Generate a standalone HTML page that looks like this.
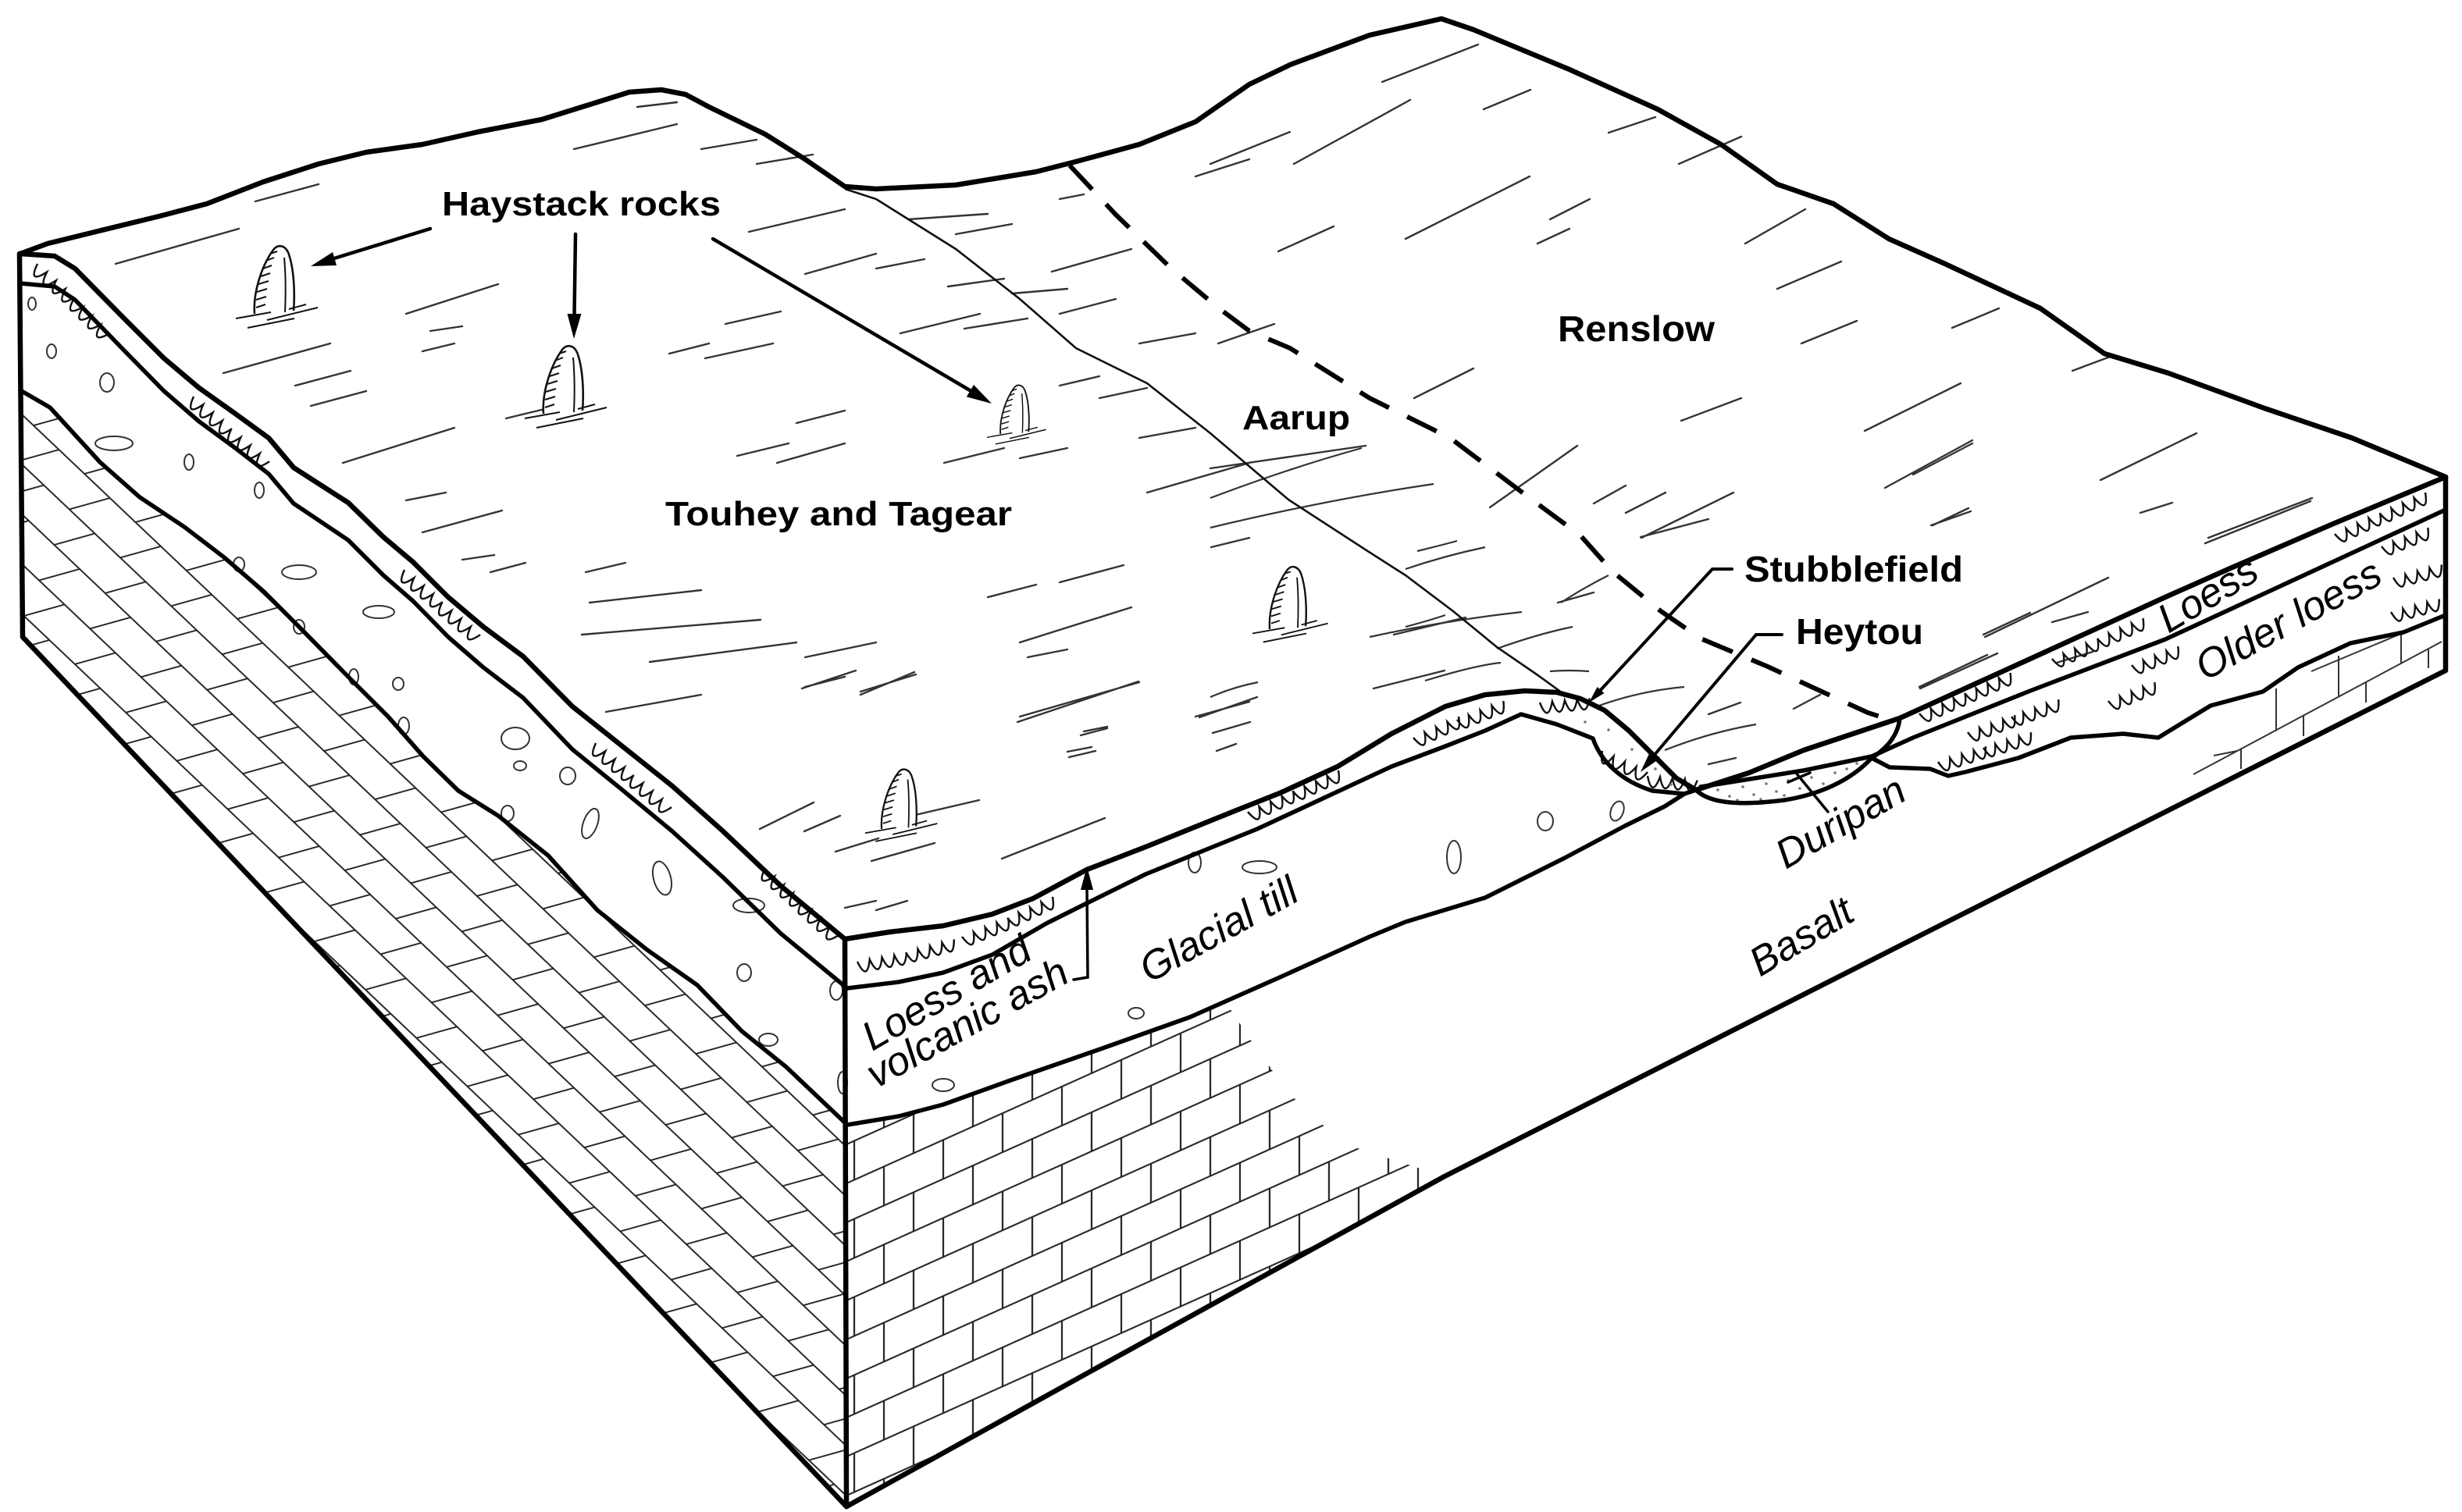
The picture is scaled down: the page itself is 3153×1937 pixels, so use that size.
<!DOCTYPE html>
<html><head><meta charset="utf-8"><style>
html,body{margin:0;padding:0;background:#fff;}
svg{display:block;}
.b{font-family:"Liberation Sans",Arial,sans-serif;font-weight:bold;fill:#000;}
.i{font-family:"Liberation Sans",Arial,sans-serif;font-style:italic;fill:#000;font-size:52px;}
</style></head><body>
<svg xmlns="http://www.w3.org/2000/svg" xmlns:xlink="http://www.w3.org/1999/xlink" width="3153" height="1937" viewBox="0 0 3153 1937">
<defs>
<pattern id="bf" patternUnits="userSpaceOnUse" width="76" height="100" patternTransform="translate(1084,1441) skewY(-24.2)">
<path d="M0,25H76M0,75H76M10,25V75M48,75V100M48,0V25" stroke="#222" stroke-width="2.2" fill="none"/>
</pattern>
<pattern id="bl" patternUnits="userSpaceOnUse" width="90" height="108" patternTransform="matrix(0.725 0.688 -0.963 0.269 29 500)">
<path d="M0,27H90M0,81H90M10,27V81M55,81V108M55,0V27" stroke="#222" stroke-width="2.2" fill="none"/>
</pattern>
<clipPath id="cl"><path d="M26,500 L64,522 L128,592 L179,637 L236,675 L287,714 L338,758 L383,803 L446,867 L497,918 L542,969 L587,1013 L638,1045 L702,1096 L765,1166 L829,1217 L893,1262 L950,1321 L1007,1367 L1084,1441 L1084,1930 L29,816 Z"/></clipPath>
<clipPath id="cf"><path d="M1084,1441 L1151,1430 L1208,1415 L1294,1384 L1409,1344 L1524,1303 L1570,1284 L1600,1330 L1650,1400 L1720,1465 L1850,1507 L1409,1750 L1084,1930 Z"/></clipPath>
<symbol id="w" overflow="visible"><path d="M0,0 q8,28 16,0 q8,28 16,0 q8,28 16,0 q8,28 16,0" fill="none" stroke="#111" stroke-width="2.5"/></symbol>
<symbol id="rk" overflow="visible">
<path d="M-26,0 C-28,-25 -18,-60 -2,-82 C4,-90 14,-88 18,-76 C24,-58 26,-30 24,-4" fill="#fff" stroke="#111" stroke-width="2.6"/>
<path d="M12,-72 C14,-50 14,-25 13,-2 M-24,-8 L-12,-12 M-24,-18 L-11,-22 M-23,-28 L-10,-32 M-21,-38 L-8,-42 M-18,-48 L-6,-52 M-15,-58 L-4,-62 M-11,-68 L-1,-72 M-6,-77 L3,-80 M-50,6 L-5,-2 M-10,8 L55,-8 M-35,18 L25,6 M18,-6 L40,-12" fill="none" stroke="#111" stroke-width="2"/>
</symbol>
</defs>
<rect width="3153" height="1937" fill="#fff"/>

<!-- brick fills -->
<rect x="0" y="400" width="1100" height="1540" fill="url(#bl)" clip-path="url(#cl)"/>
<rect x="1080" y="1200" width="800" height="740" fill="url(#bf)" clip-path="url(#cf)"/>
<path d="M2809,992 L3127,822 M2915,935 V882 M2995,893 V840 M3075,850 V812 M2870,960 V985 M2950,917 V943 M3030,874 V900 M3110,832 V856 M2835,968 L2865,962 M2960,860 L3127,790" stroke="#333" stroke-width="2" fill="none"/>

<!-- hatch lines -->
<path fill="none" stroke="#333" stroke-width="2.4" stroke-linecap="round" d="
M816,137L867,131 M735,191L867,159 M898,191L969,179 M327,258L408,236 M969,210L1041,198 M959,297L1082,268 M1163,281L1265,274 M1224,300L1296,287 M1357,255L1388,249 M1531,226L1600,204 M148,338L306,293 M1031,351L1122,325 M1122,344L1184,332 M1347,348L1449,319 M520,402L638,364 M551,424L592,418 M541,450L582,440 M1214,367L1286,357 M1296,376L1367,370 M929,415L1000,399 M1153,427L1255,402 M1235,421L1316,408 M1357,402L1429,383 M1459,440L1531,427 M286,478L423,440 M378,494L449,475 M398,520L469,501 M857,453L908,440 M903,459L990,440 M1357,494L1408,482 M1408,510L1469,497 M648,536L714,520 M439,593L582,548 M1020,542L1082,526 M944,584L1010,568 M995,593L1082,568 M1209,593L1286,574 M1306,587L1367,574 M1469,631L1600,593 M1459,561L1531,548 M520,641L571,631 M541,682L643,654 M592,717L633,711 M628,733L673,721 M750,733L801,721 M755,772L898,756 M745,813L974,794 M1265,765L1327,749 M1357,746L1439,724 M1551,701L1600,689 M832,848L1020,823 M1031,842L1122,823 M1306,823L1449,778 M1316,842L1367,832 M1031,880L1082,867 M1102,886L1173,864 M776,912L898,890 M1306,918L1459,874 M1388,937L1418,931 M1531,918L1600,899 M1367,963L1398,957
M1027,882L1096,859 M1102,890L1171,861 M1303,925L1458,873 M1536,919L1610,893 M1759,882L1850,859 M1384,942L1418,933 M1369,970L1403,962 M1553,939L1601,925 M1558,962L1583,953 M973,1062L1042,1028 M1030,1065L1076,1045 M1070,1091L1125,1074 M1116,1103L1197,1080 M1168,1045L1254,1025 M1283,1100L1415,1048 M1082,1163L1122,1154 M1122,1166L1162,1154
M1770,105L1893,57 M1550,210L1652,169 M1657,210L1806,128 M1637,322L1708,290 M1800,306L1959,226 M1985,281L2036,255 M1969,312L2010,293 M2235,312L2312,268 M2276,370L2358,335 M2307,440L2378,411 M1560,440L1632,415 M1811,510L1887,472 M2153,539L2230,510 M2388,552L2511,491 M2654,475L2705,456 M1550,600L1749,571 M1908,650L2020,571 M2041,645L2082,622 M2082,657L2133,631 M2102,689L2220,631 M2414,625L2526,564 M2690,615L2813,555 M2475,673L2521,651 M2741,657L2782,644 M2828,689L2961,638 M2542,816L2700,740 M1995,772L2041,759 M1785,813L1877,791 M2628,797L2674,784 M2634,849L2680,835 M2450,608L2526,568 M2459,882L2558,837 M2824,696L2959,642 M2540,813L2600,785 M2458,880L2545,839 M2101,688L2188,665 M2473,673L2524,655 M2188,915L2229,900 M2188,979L2223,971 M2297,908L2331,890 M1900,140L1960,115 M2150,210L2230,175 M2060,170L2120,150 M2500,420L2560,395
"/>
<path fill="none" stroke="#333" stroke-width="2.2" d="M1550,638 Q1650,600 1744,574 M1550,676 Q1700,640 1836,620 M1800,729 Q1850,712 1902,701 M1815,706 Q1840,700 1866,693 M1917,831 Q1970,812 2014,803 M1800,803 Q1830,795 1851,788 M1825,872 Q1890,852 1922,849 M1999,772 Q2030,752 2060,737 M2045,905 Q2100,885 2157,880 M2132,961 Q2190,938 2249,928 M1754,816 Q1850,795 1949,784 M1550,893 Q1580,880 1611,874 M1985,860 Q2010,858 2035,860"/>

<!-- thin Touhey/Aarup boundary -->
<path fill="none" stroke="#111" stroke-width="2.6" d="M1082,242 L1122,255 L1224,319 L1306,383 L1378,446 L1469,491 L1550,555 L1650,640 L1750,705 L1800,737 L1861,783 L1917,829 L1968,864 L2004,890"/>

<!-- dashed Aarup/Renslow boundary -->
<path fill="none" stroke="#000" stroke-width="6" stroke-dasharray="42 26" d="M1370,212 L1429,275 L1500,344 L1561,395 L1600,424 L1652,446 L1754,510 L1857,561 L1959,638 L2024,686 L2065,732 L2127,783 L2178,818 L2264,854 L2331,885 L2392,913 L2433,926"/>

<!-- ovals -->
<g fill="none" stroke="#333" stroke-width="2">
<ellipse cx="41" cy="389" rx="5" ry="8"/><ellipse cx="66" cy="450" rx="6" ry="9"/><ellipse cx="137" cy="490" rx="9" ry="12"/><ellipse cx="146" cy="568" rx="24" ry="9"/><ellipse cx="242" cy="592" rx="6" ry="10"/><ellipse cx="332" cy="628" rx="6" ry="10"/><ellipse cx="306" cy="723" rx="7" ry="9"/><ellipse cx="383" cy="733" rx="22" ry="9"/><ellipse cx="383" cy="803" rx="7" ry="9"/><ellipse cx="453" cy="867" rx="6" ry="10"/><ellipse cx="485" cy="784" rx="20" ry="8"/><ellipse cx="510" cy="876" rx="7" ry="8"/><ellipse cx="517" cy="930" rx="7" ry="11"/><ellipse cx="660" cy="946" rx="18" ry="14"/><ellipse cx="666" cy="981" rx="8" ry="6"/><ellipse cx="727" cy="994" rx="10" ry="11"/><ellipse cx="650" cy="1042" rx="8" ry="10"/><ellipse cx="756" cy="1055" rx="9" ry="20" transform="rotate(20 756 1055)"/><ellipse cx="848" cy="1125" rx="11" ry="22" transform="rotate(-15 848 1125)"/><ellipse cx="959" cy="1160" rx="20" ry="9"/><ellipse cx="953" cy="1246" rx="9" ry="11"/><ellipse cx="984" cy="1332" rx="12" ry="8"/>
<ellipse cx="1071" cy="1269" rx="8" ry="12"/><ellipse cx="1079" cy="1387" rx="6" ry="14"/><ellipse cx="1208" cy="1390" rx="14" ry="8"/><ellipse cx="1455" cy="1298" rx="10" ry="7"/><ellipse cx="1530" cy="1105" rx="8" ry="13"/><ellipse cx="1613" cy="1111" rx="22" ry="8"/><ellipse cx="1862" cy="1098" rx="9" ry="21"/><ellipse cx="1979" cy="1052" rx="10" ry="12"/><ellipse cx="2071" cy="1039" rx="8" ry="13" transform="rotate(20 2071 1039)"/>
</g>

<!-- wavy loess marks -->
<g>
<use xlink:href="#w" transform="translate(48,338) rotate(42)"/><use xlink:href="#w" transform="translate(95,382) rotate(45)"/>
<use xlink:href="#w" transform="translate(248,508) rotate(40)"/><use xlink:href="#w" transform="translate(296,550) rotate(40)"/>
<use xlink:href="#w" transform="translate(518,730) rotate(40)"/><use xlink:href="#w" transform="translate(566,772) rotate(40)"/>
<use xlink:href="#w" transform="translate(763,952) rotate(40)"/><use xlink:href="#w" transform="translate(811,993) rotate(40)"/>
<use xlink:href="#w" transform="translate(980,1112) rotate(42)"/><use xlink:href="#w" transform="translate(1027,1155) rotate(42)"/>
<use xlink:href="#w" transform="translate(1098,1232) rotate(-10)"/><use xlink:href="#w" transform="translate(1160,1220) rotate(-15)"/>
<use xlink:href="#w" transform="translate(1232,1200) rotate(-22)"/><use xlink:href="#w" transform="translate(1290,1176) rotate(-25)"/>
<use xlink:href="#w" transform="translate(1598,1040) rotate(-25)"/><use xlink:href="#w" transform="translate(1656,1014) rotate(-25)"/>
<use xlink:href="#w" transform="translate(1810,945) rotate(-25)"/><use xlink:href="#w" transform="translate(1866,922) rotate(-22)"/>
<use xlink:href="#w" transform="translate(1972,900) rotate(-5)"/><use xlink:href="#w" transform="translate(2052,962) rotate(25)"/><use xlink:href="#w" transform="translate(2110,994) rotate(5)"/>
<use xlink:href="#w" transform="translate(2458,914) rotate(-24)"/><use xlink:href="#w" transform="translate(2516,888) rotate(-24)"/>
<use xlink:href="#w" transform="translate(2628,844) rotate(-24)"/><use xlink:href="#w" transform="translate(2686,818) rotate(-24)"/>
<use xlink:href="#w" transform="translate(2990,684) rotate(-25)"/><use xlink:href="#w" transform="translate(3048,658) rotate(-25)"/>
<use xlink:href="#w" transform="translate(2482,976) rotate(-18)"/><use xlink:href="#w" transform="translate(2540,958) rotate(-18)"/>
<use xlink:href="#w" transform="translate(2520,938) rotate(-20)"/><use xlink:href="#w" transform="translate(2576,918) rotate(-20)"/>
<use xlink:href="#w" transform="translate(2700,898) rotate(-22)"/><use xlink:href="#w" transform="translate(2730,852) rotate(-22)"/>
<use xlink:href="#w" transform="translate(3050,700) rotate(-22)"/><use xlink:href="#w" transform="translate(3065,740) rotate(-15)"/><use xlink:href="#w" transform="translate(3062,784) rotate(-15)"/>
</g>

<!-- duripan stipple -->
<g fill="#777">
<circle cx="2200" cy="1012" r="1.8"/><circle cx="2215" cy="1020" r="1.8"/><circle cx="2232" cy="1008" r="1.8"/><circle cx="2246" cy="1018" r="1.8"/><circle cx="2262" cy="1004" r="1.8"/><circle cx="2275" cy="1014" r="1.8"/><circle cx="2290" cy="1000" r="1.8"/><circle cx="2305" cy="1010" r="1.8"/><circle cx="2320" cy="996" r="1.8"/><circle cx="2335" cy="1004" r="1.8"/><circle cx="2350" cy="990" r="1.8"/><circle cx="2365" cy="985" r="1.8"/><circle cx="2378" cy="978" r="1.8"/><circle cx="2225" cy="1025" r="1.8"/><circle cx="2255" cy="1024" r="1.8"/><circle cx="2285" cy="1019" r="1.8"/>
<circle cx="2030" cy="925" r="1.8"/><circle cx="2060" cy="935" r="1.8"/><circle cx="2090" cy="960" r="1.8"/><circle cx="2120" cy="985" r="1.8"/><circle cx="2140" cy="1005" r="1.8"/>
</g>

<!-- rocks -->
<use xlink:href="#rk" transform="translate(352,402)"/>
<use xlink:href="#rk" transform="translate(722,530)"/>
<use xlink:href="#rk" transform="translate(1300,556) scale(0.72)"/>
<use xlink:href="#rk" transform="translate(1650,806) scale(0.92)"/>
<use xlink:href="#rk" transform="translate(1152,1062) scale(0.88)"/>

<!-- main thick outlines -->
<g fill="none" stroke="#000" stroke-width="6.5" stroke-linejoin="round" stroke-linecap="round">
<path d="M26,325 L61,312 L122,297 L204,277 L265,261 L337,233 L408,210 L469,195 L541,185 L612,169 L694,153 L755,134 L806,118 L847,115 L878,121 L908,137 L980,172 L1031,204 L1082,239 L1122,242 L1224,237 L1327,220 L1378,207 L1459,185 L1531,156 L1600,108 L1652,83 L1754,45 L1846,24 L1887,38 L2010,89 L2123,140 L2204,185 L2276,236 L2348,261 L2419,306 L2491,338 L2613,395 L2695,453 L2777,478 L2900,523 L3012,561 L3132,611"/>
<path d="M26,325 L70,328 L96,344 L159,408 L210,459 L255,497 L300,529 L344,561 L376,599 L446,644 L491,688 L529,720 L574,765 L619,803 L670,841 L733,905 L797,956 L861,1007 L925,1064 L1000,1135 L1082,1203 L1139,1194 L1208,1186 L1271,1171 L1323,1151 L1392,1114 L1467,1085 L1524,1062 L1581,1039 L1639,1016 L1713,982 L1782,940 L1851,905 L1902,890 L1953,885 L1994,887 L2024,895 L2055,910 L2086,936 L2116,966 L2147,997 L2172,1012 L2240,990 L2310,961 L2433,920 L2600,844 L2773,765 L2854,729 L2988,671 L3132,611"/>
<path d="M25,325 L29,816 L1084,1930 L1409,1750 L1850,1507 L2450,1203 L3132,859 L3132,611"/>
<path d="M1082,1203 L1084,1930"/>
</g>
<g fill="none" stroke="#000" stroke-width="5.5" stroke-linejoin="round" stroke-linecap="round">
<path d="M26,363 L70,367 L96,384 L159,449 L210,501 L255,540 L300,573 L344,607 L376,645 L446,692 L491,737 L529,770 L574,816 L619,855 L670,894 L733,960 L797,1012 L861,1065 L925,1123 L1000,1196 L1085,1266 L1151,1258 L1208,1246 L1271,1223 L1340,1183 L1392,1157 L1467,1120 L1553,1085 L1610,1062 L1696,1022 L1782,982 L1851,956 L1902,936 L1948,915 L1994,928 L2040,946 C2050,975 2075,1000 2116,1013 L2157,1017 L2178,1010"/>
<path d="M26,500 L64,522 L128,592 L179,637 L236,675 L287,714 L338,758 L383,803 L446,867 L497,918 L542,969 L587,1013 L638,1045 L702,1096 L765,1166 L829,1217 L893,1262 L950,1321 L1007,1367 L1085,1441 L1151,1430 L1208,1415 L1294,1384 L1409,1344 L1524,1303 L1639,1252 L1754,1200 L1800,1181 L1902,1150 L2004,1099 L2081,1058 L2132,1033 L2157,1017"/>
<path d="M2178,1008 L2310,987 L2397,969 L2450,945 L2600,885 L2773,819 L3132,653"/>
<path d="M2433,920 Q2430,950 2397,971 L2420,983 L2472,985 L2495,994 L2517,989 L2585,971 L2652,945 L2719,940 L2764,945 L2831,904 L2898,886 L2943,855 L3010,824 L3078,810 L3132,788"/>
<path d="M2172,1012 C2190,1030 2230,1032 2285,1025 C2330,1018 2370,1000 2397,971"/>
</g>

<!-- arrows & leaders -->
<g stroke="#000" stroke-width="4.5" fill="none" stroke-linecap="round">
<path d="M551,293 L428,331"/>
<path d="M737,300 L735.5,404"/>
<path d="M913,306 L1242,500"/>
<path d="M2218,729 L2193,729 L2048,886" stroke-width="4"/>
<path d="M2282,813 L2249,813 L2118,968" stroke-width="4"/>
<path d="M1375,1255 L1393,1252 L1392,1138" stroke-width="3.5"/>
<path d="M2300,990 L2341,1040 M2290,1002 L2318,990" stroke-width="3.5"/>
</g>
<g fill="#000">
<polygon points="398,341 431,340 426,323"/>
<polygon points="735,434 744.5,402 726.5,402"/>
<polygon points="1270,517 1237.8,508.4 1247,493"/>
<polygon points="2035,900 2054.4,888 2045.6,880"/>
<polygon points="2101,989 2126.4,971.1 2114.2,960.9"/>
<polygon points="1392,1110 1400,1140 1384,1140"/>
</g>

<!-- bold labels -->
<text class="b" x="566" y="276" font-size="44" textLength="357" lengthAdjust="spacingAndGlyphs">Haystack rocks</text>
<text class="b" x="852" y="673" font-size="44" textLength="444" lengthAdjust="spacingAndGlyphs">Touhey and Tagear</text>
<text class="b" x="1591" y="550" font-size="44" textLength="138" lengthAdjust="spacingAndGlyphs">Aarup</text>
<text class="b" x="1995" y="437" font-size="46" textLength="201" lengthAdjust="spacingAndGlyphs">Renslow</text>
<text class="b" x="2234" y="745" font-size="46" textLength="280" lengthAdjust="spacingAndGlyphs">Stubblefield</text>
<text class="b" x="2300" y="825" font-size="46" textLength="163" lengthAdjust="spacingAndGlyphs">Heytou</text>

<!-- italic labels -->
<text class="i" transform="translate(1117,1347) rotate(-30)">Loess and</text>
<text class="i" transform="translate(1122,1395) rotate(-29)">volcanic ash</text>
<text class="i" transform="translate(1472,1260) rotate(-29)">Glacial till</text>
<text class="i" font-size="50" transform="translate(2287,1114) rotate(-30)">Duripan</text>
<text class="i" transform="translate(2254,1252) rotate(-31)">Basalt</text>
<text class="i" font-size="50" transform="translate(2777,812) rotate(-31)">Loess</text>
<text class="i" transform="translate(2824,873) rotate(-29)">Older loess</text>
</svg>
</body></html>
